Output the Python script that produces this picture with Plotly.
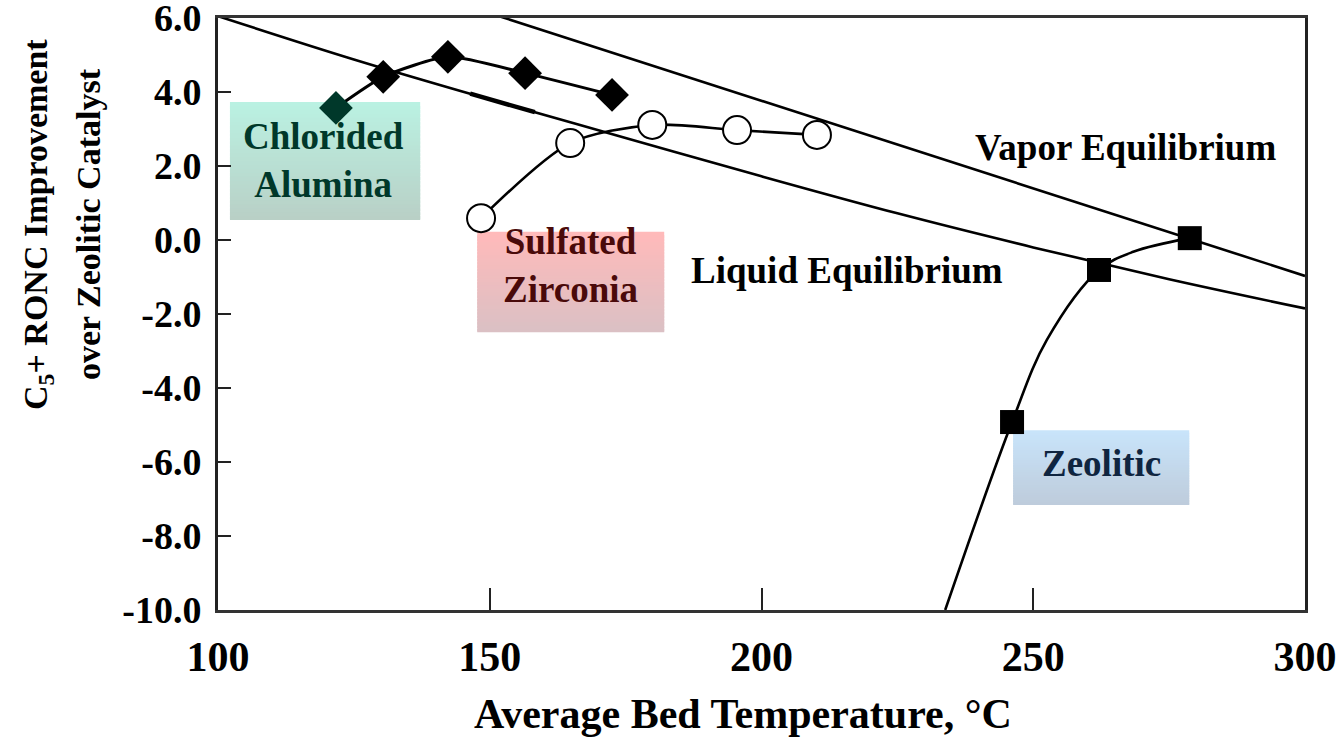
import numpy as np
import plotly.graph_objects as go

# ---- data -------------------------------------------------------------
x_tick_vals = [100, 150, 200, 250, 300]
x_tick_text = ["100", "150", "200", "250", "300"]
y_tick_vals = [6, 4, 2, 0, -2, -4, -6, -8, -10]
y_tick_text = ["6.0", "4.0", "2.0", "0.0", "-2.0", "-4.0", "-6.0", "-8.0", "-10.0"]

# equilibrium curves
liquid_t = [100, 125, 150, 175, 200, 225, 250, 275, 300]
liquid_ronc = [6.05, 4.88, 3.80, 2.76, 1.72, 0.72, -0.20, -1.06, -1.85]
vapor_t = [150, 300]
vapor_ronc = [6.13, -0.97]

# catalyst data
chlorided_t = [121.7, 130.4, 142.3, 156.5, 172.5]
chlorided_ronc = [3.57, 4.41, 4.95, 4.51, 3.92]

sulfated_t = [148.4, 164.8, 179.9, 195.5, 210.2]
sulfated_ronc = [0.59, 2.62, 3.11, 2.97, 2.84]

zeolitic_t = [246.1, 262.1, 278.8]
zeolitic_ronc = [-4.92, -0.81, 0.05]
# fitted trend through the zeolitic points, extended to the axis floor
zeolitic_fit_t = [233.8, 246.1, 252.5, 262.1, 268.4, 278.8]
zeolitic_fit_ronc = [-10.0, -4.92, -2.70, -0.81, -0.32, 0.05]

# span of the liquid curve traced with a heavier stroke
liquid_overlay_t = [146.4, 158.3]

SERIF = "Liberation Serif"
INK = "#000000"

fig = go.Figure()

# equilibrium lines
fig.add_trace(go.Scatter(x=liquid_t, y=liquid_ronc, mode="lines",
                         line=dict(color=INK, width=2.6, shape="spline"),
                         hoverinfo="skip"))
fig.add_trace(go.Scatter(x=liquid_overlay_t,
                         y=np.interp(liquid_overlay_t, liquid_t, liquid_ronc),
                         mode="lines", line=dict(color=INK, width=4.5),
                         hoverinfo="skip"))
fig.add_trace(go.Scatter(x=vapor_t, y=vapor_ronc, mode="lines",
                         line=dict(color=INK, width=2.6), hoverinfo="skip"))

# zeolitic trend + points
fig.add_trace(go.Scatter(x=zeolitic_fit_t, y=zeolitic_fit_ronc, mode="lines",
                         line=dict(color=INK, width=2.6, shape="spline", smoothing=1.0),
                         hoverinfo="skip"))
fig.add_trace(go.Scatter(x=zeolitic_t, y=zeolitic_ronc, mode="markers",
                         marker=dict(symbol="square", size=24, color=INK)))

# sulfated zirconia
fig.add_trace(go.Scatter(x=sulfated_t, y=sulfated_ronc, mode="lines+markers",
                         line=dict(color=INK, width=2.6, shape="spline", smoothing=0.8),
                         marker=dict(symbol="circle", size=28, color="white",
                                     line=dict(color=INK, width=2))))

# chlorided alumina
diamond_colors = ["#00382a", INK, INK, INK, INK]
fig.add_trace(go.Scatter(x=chlorided_t, y=chlorided_ronc, mode="lines+markers",
                         line=dict(color=INK, width=3, shape="spline", smoothing=0.6),
                         marker=dict(symbol="diamond", size=26, color=diamond_colors)))


def gradient_box(x0, x1, y0, y1, top, bottom, n=30):
    """Vertical colour gradient built from overlapping stacked rectangles."""
    shapes = []
    step = (y1 - y0) / n
    for i in range(n):
        f = i / (n - 1)
        c = tuple(round(top[k] + (bottom[k] - top[k]) * f) for k in range(3))
        ya = y0 + step * i
        yb = y1 if i == n - 1 else y0 + step * (i + 1.8)
        shapes.append(dict(type="rect", xref="x", yref="y", x0=x0, x1=x1,
                           y0=ya, y1=yb, layer="below", line=dict(width=0),
                           fillcolor="rgb(%d,%d,%d)" % c))
    return shapes


shapes = []
shapes += gradient_box(102.2, 137.2, 3.73, 0.54, (186, 241, 226), (185, 208, 198))
shapes += gradient_box(147.7, 182.1, 0.22, -2.49, (255, 186, 186), (219, 192, 196))
shapes += gradient_box(246.3, 278.7, -5.14, -7.16, (200, 228, 250), (190, 204, 220))

label_font = dict(family=SERIF, size=37)
annotations = [
    dict(x=119.5, y=2.15, text="<b>Chlorided<br>Alumina</b>",
         font=dict(label_font, color="#00382a")),
    dict(x=164.9, y=-0.68, text="<b>Sulfated<br>Zirconia</b>",
         font=dict(label_font, color="#4a0a0a")),
    dict(x=262.5, y=-6.03, text="<b>Zeolitic</b>",
         font=dict(label_font, color="#0f2540")),
    dict(x=266.9, y=2.5, text="<b>Vapor Equilibrium</b>",
         font=dict(label_font, color=INK)),
    dict(x=215.7, y=-0.82, text="<b>Liquid Equilibrium</b>",
         font=dict(label_font, color=INK)),
]
for a in annotations:
    a.update(xref="x", yref="y", showarrow=False, xanchor="center", yanchor="middle")

# axis titles
title_common = dict(xref="paper", yref="paper", showarrow=False,
                    xanchor="center", yanchor="middle")
annotations += [
    dict(title_common, x=-0.1656, y=0.652, textangle=-90,
         text="<b>C<sub>5</sub>+ RONC Improvement</b>",
         font=dict(family=SERIF, size=34, color=INK)),
    dict(title_common, x=-0.1196, y=0.652, textangle=-90,
         text="<b>over Zeolitic Catalyst</b>",
         font=dict(family=SERIF, size=34, color=INK)),
    dict(title_common, x=0.483, y=-0.176,
         text="<b>Average Bed Temperature, °C</b>",
         font=dict(family=SERIF, size=42, color=INK)),
]

fig.update_layout(
    width=1341, height=740,
    margin=dict(l=218, r=36, t=18, b=130),
    paper_bgcolor="white", plot_bgcolor="white",
    showlegend=False,
    shapes=shapes,
    annotations=annotations,
    xaxis=dict(range=[100, 300], tickvals=x_tick_vals, ticktext=x_tick_text,
               ticks="inside", ticklen=22, tickwidth=2, tickcolor="#222",
               showline=True, linecolor="#333", linewidth=3, mirror=True,
               showgrid=False, zeroline=False, ticklabelstandoff=8,
               ticklabeloverflow="allow", automargin=False,
               tickfont=dict(family=SERIF, size=42, color=INK, weight="bold")),
    yaxis=dict(range=[-10, 6], tickvals=y_tick_vals, ticktext=y_tick_text,
               ticks="inside", ticklen=13, tickwidth=2, tickcolor="#222",
               showline=True, linecolor="#222", linewidth=3, mirror=True,
               showgrid=False, zeroline=False, ticklabelstandoff=6,
               ticklabeloverflow="allow", automargin=False,
               tickfont=dict(family=SERIF, size=38, color=INK, weight="bold")),
)

fig.write_html("out.html")
